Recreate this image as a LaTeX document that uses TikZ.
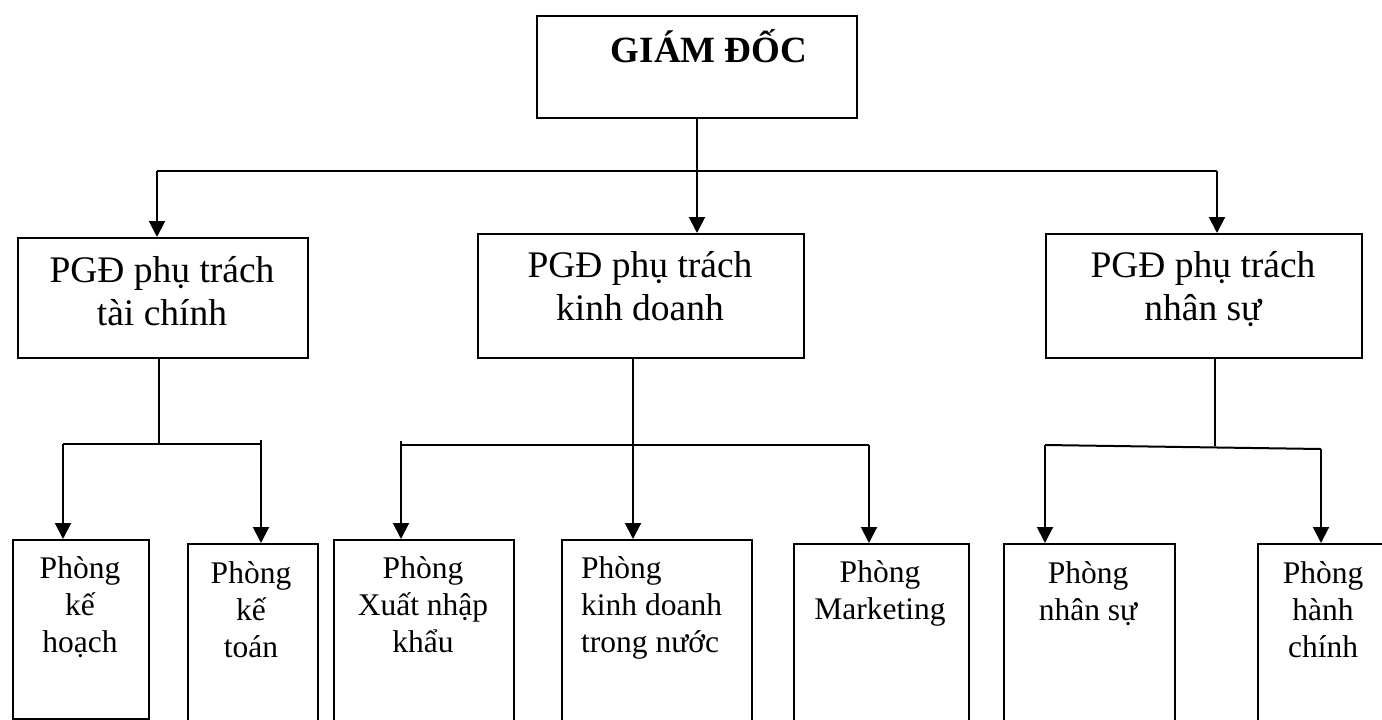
\documentclass[tikz,border=0pt]{standalone}
\usepackage{fontspec}
\setmainfont{Liberation Serif}
\usetikzlibrary{arrows.meta}
\begin{document}
\begin{tikzpicture}[x=1pt,y=-1pt,
  box/.style={draw,line width=2pt,inner sep=0pt,anchor=north west},
  big/.style={font=\fontsize{37.5}{42.5}\selectfont,anchor=base,align=center,inner sep=0pt},
  small/.style={font=\fontsize{31.5}{37}\selectfont,anchor=base,align=center,inner sep=0pt},
  head/.style={font=\fontsize{37}{44}\selectfont\bfseries,anchor=base,inner sep=0pt},
  link/.style={line width=2pt},
  arr/.style={line width=2pt,-{Triangle[width=16pt,length=16pt]}}]
\useasboundingbox (0,0) rectangle (1382,720);
\clip (0,0) rectangle (1382,720);

% director
\node[box,minimum width=320pt,minimum height=102pt] (gd) at (536,15) {};
\node[head] (gdt) at (709,62) {GIÁM ĐỐC};

% deputy directors (text nodes are placed by the baseline of their last line)
\node[box,minimum width=290pt,minimum height=120pt] (tc) at (17,237) {};
\node[box,minimum width=326pt,minimum height=124pt] (kd) at (477,233) {};
\node[box,minimum width=316pt,minimum height=124pt] (ns) at (1045,233) {};
\node[big] (tct) at (162,325) {PGĐ phụ trách\\tài chính};
\node[big] (kdt) at (640,320) {PGĐ phụ trách\\kinh doanh};
\node[big] (nst) at (1203,320) {PGĐ phụ trách\\nhân sự};

% departments
\node[box,minimum width=136pt,minimum height=179pt] (b1) at (12,539) {};
\node[box,minimum width=130pt,minimum height=200pt] (b2) at (187,543) {};
\node[box,minimum width=180pt,minimum height=200pt] (b3) at (333,539) {};
\node[box,minimum width=190pt,minimum height=200pt] (b4) at (561,539) {};
\node[box,minimum width=175pt,minimum height=200pt] (b5) at (793,543) {};
\node[box,minimum width=171pt,minimum height=200pt] (b6) at (1003,543) {};
\node[box,minimum width=132pt,minimum height=200pt] (b7) at (1257,543) {};
\node[small] (b1t) at (80,652) {Phòng\\kế\\hoạch};
\node[small] (b2t) at (251,657) {Phòng\\kế\\toán};
\node[small] (b3t) at (423,652) {Phòng\\Xuất nhập\\khẩu};
\node[small,align=left,anchor=base west] (b4t) at (581,652) {Phòng\\kinh doanh\\trong nước};
\node[small] (b5t) at (880,619) {Phòng\\Marketing};
\node[small] (b6t) at (1088,620) {Phòng\\nhân sự};
\node[small] (b7t) at (1323,657) {Phòng\\hành\\chính};

% director to deputies
\coordinate (jl) at (157,171);
\coordinate (jr) at (1217,171);
\draw[arr] (gd.south) -- (gd.south |- kd.north);
\draw[link] (jl) -- (jr);
\draw[arr] (jl) -- (jl |- tc.north);
\draw[arr] (jr) -- (jr |- ns.north);

% finance branch
\coordinate (ta) at (159,444);
\coordinate (tl) at (63,444);
\coordinate (tr) at (261,444);
\draw[link] (ta |- tc.south) -- (ta);
\draw[link] (tl) -- (tr);
\draw[arr] (tl) -- (tl |- b1.north);
\draw[arr] ([yshift=4pt]tr) -- (tr |- b2.north);

% business branch
\coordinate (ka) at (633,445);
\coordinate (kl) at (401,445);
\coordinate (kr) at (869,445);
\draw[arr] (ka |- kd.south) -- (ka |- b4.north);
\draw[link] (kl) -- (kr);
\draw[arr] ([yshift=4pt]kl) -- (kl |- b3.north);
\draw[arr] (kr) -- (kr |- b5.north);

% personnel branch
\coordinate (na) at (1215,446);
\coordinate (nl) at (1045,445);
\coordinate (nr) at (1321,449);
\draw[link] (na |- ns.south) -- (na);
\draw[link] (nl) -- (nr);
\draw[arr] (nl) -- (nl |- b6.north);
\draw[arr] (nr) -- (nr |- b7.north);
\end{tikzpicture}
\end{document}
